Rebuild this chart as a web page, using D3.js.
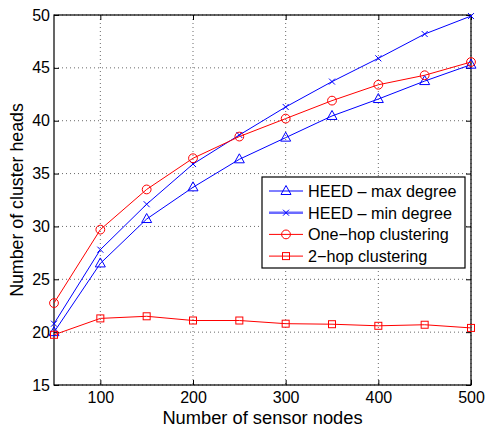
<!DOCTYPE html>
<html>
<head>
<meta charset="utf-8">
<script src="https://cdn.jsdelivr.net/npm/d3@7"></script>
<style>
  body { margin: 0; background: #fff; }
  text { font-family: "Liberation Sans", Arial, sans-serif; }
</style>
</head>
<body>
<div id="chart"></div>
<script>
// data
const nodes = [50, 100, 150, 200, 250, 300, 350, 400, 450, 500];
const heedMax = [20.0, 26.5, 30.7, 33.7, 36.35, 38.4, 40.45, 42.05, 43.75, 45.3];
const heedMin = [20.8, 27.8, 32.1, 35.9, 38.65, 41.3, 43.7, 45.9, 48.2, 49.9];
const oneHop = [22.75, 29.7, 33.5, 36.45, 38.5, 40.2, 41.9, 43.4, 44.3, 45.55];
const twoHop = [19.75, 21.3, 21.5, 21.1, 21.1, 20.8, 20.75, 20.6, 20.7, 20.4];
const xTicks = [100, 200, 300, 400, 500];
const yTicks = [15, 20, 25, 30, 35, 40, 45, 50];

const series = [
    { name: "HEED \u2013 max degree", values: heedMax, color: "#0000ff", marker: "triangle" },
    { name: "HEED \u2013 min degree", values: heedMin, color: "#0000ff", marker: "x" },
    { name: "One\u2212hop clustering", values: oneHop, color: "#ff0000", marker: "circle" },
    { name: "2\u2212hop clustering", values: twoHop, color: "#ff0000", marker: "square" }
];

const W = 486, H = 430;
const margin = { top: 15, right: 15, bottom: 45, left: 54 };
const width = W - margin.left - margin.right;
const height = H - margin.top - margin.bottom;

const svg = d3.select("#chart").append("svg")
    .attr("width", W)
    .attr("height", H);

const g = svg.append("g")
    .attr("transform", `translate(${margin.left},${margin.top})`);

const x = d3.scaleLinear().domain([50, 500]).range([0, width]);
const y = d3.scaleLinear().domain([15, 50]).range([height, 0]);

// dotted grid
g.selectAll(".gx").data(xTicks).enter().append("line")
    .attr("x1", d => x(d)).attr("x2", d => x(d))
    .attr("y1", 0).attr("y2", height)
    .attr("stroke", "#444").attr("stroke-width", 0.8)
    .attr("stroke-dasharray", "1,3");
g.selectAll(".gy").data(yTicks).enter().append("line")
    .attr("x1", 0).attr("x2", width)
    .attr("y1", d => y(d)).attr("y2", d => y(d))
    .attr("stroke", "#444").attr("stroke-width", 0.8)
    .attr("stroke-dasharray", "1,3");

// axes, matlab style ticks pointing inward
const tickLen = 5;
function styleAxis(sel) {
    sel.select(".domain").remove();
    sel.selectAll("line").attr("stroke", "#000");
    sel.selectAll("text").attr("fill", "#000").style("font-size", "16px");
}
g.append("g")
    .attr("transform", `translate(0,${height})`)
    .call(d3.axisBottom(x).tickValues(xTicks).tickSize(-tickLen).tickPadding(7))
    .call(styleAxis);
g.append("g")
    .call(d3.axisTop(x).tickValues(xTicks).tickSize(-tickLen).tickFormat(""))
    .call(styleAxis);
g.append("g")
    .call(d3.axisLeft(y).tickValues(yTicks).tickSize(-tickLen).tickPadding(4))
    .call(styleAxis);
g.append("g")
    .attr("transform", `translate(${width},0)`)
    .call(d3.axisRight(y).tickValues(yTicks).tickSize(-tickLen).tickFormat(""))
    .call(styleAxis);

g.append("rect")
    .attr("width", width).attr("height", height)
    .attr("fill", "none").attr("stroke", "#000").attr("stroke-width", 1.2);

// markers
function drawMarker(sel, type, color) {
    if (type === "triangle") {
        sel.append("path").attr("d", "M0,-5.5L5,3.5L-5,3.5Z")
            .attr("fill", "none").attr("stroke", color).attr("stroke-width", 1);
    } else if (type === "x") {
        sel.append("path").attr("d", "M-3,-3L3,3M-3,3L3,-3")
            .attr("fill", "none").attr("stroke", color).attr("stroke-width", 1);
    } else if (type === "circle") {
        sel.append("circle").attr("r", 4.4)
            .attr("fill", "none").attr("stroke", color).attr("stroke-width", 1);
    } else {
        sel.append("rect").attr("x", -3.5).attr("y", -3.5).attr("width", 7).attr("height", 7)
            .attr("fill", "none").attr("stroke", color).attr("stroke-width", 1);
    }
}

const line = d3.line().x((d, i) => x(nodes[i])).y(d => y(d));

series.forEach(s => {
    g.append("path")
        .attr("d", line(s.values))
        .attr("fill", "none")
        .attr("stroke", s.color)
        .attr("stroke-width", 1);
    s.values.forEach((v, i) => {
        const m = g.append("g").attr("transform", `translate(${x(nodes[i])},${y(v)})`);
        drawMarker(m, s.marker, s.color);
    });
});

// legend
const legend = svg.append("g").attr("transform", "translate(262,177)");
legend.append("rect")
    .attr("width", 203).attr("height", 91)
    .attr("fill", "#fff").attr("stroke", "#000").attr("stroke-width", 1.2);
series.forEach((s, i) => {
    const row = legend.append("g").attr("transform", `translate(0,${14 + i * 21.7})`);
    const light = s.marker === "x";
    row.append("line")
        .attr("x1", 7).attr("x2", 41)
        .attr("stroke", light ? "#6b6bff" : s.color)
        .attr("stroke-width", light ? 2.4 : 1);
    const m = row.append("g").attr("transform", "translate(24,0)");
    drawMarker(m, s.marker, s.color);
    row.append("text")
        .attr("x", 46).attr("y", 6)
        .style("font-size", "16.2px")
        .text(s.name);
});

// axis titles
svg.append("text")
    .attr("x", margin.left + width / 2).attr("y", 424)
    .attr("text-anchor", "middle")
    .style("font-size", "18.3px")
    .text("Number of sensor nodes");
svg.append("text")
    .attr("transform", `translate(23,${margin.top + height / 2}) rotate(-90)`)
    .attr("text-anchor", "middle")
    .style("font-size", "17.8px")
    .text("Number of cluster heads");
</script>
</body>
</html>
